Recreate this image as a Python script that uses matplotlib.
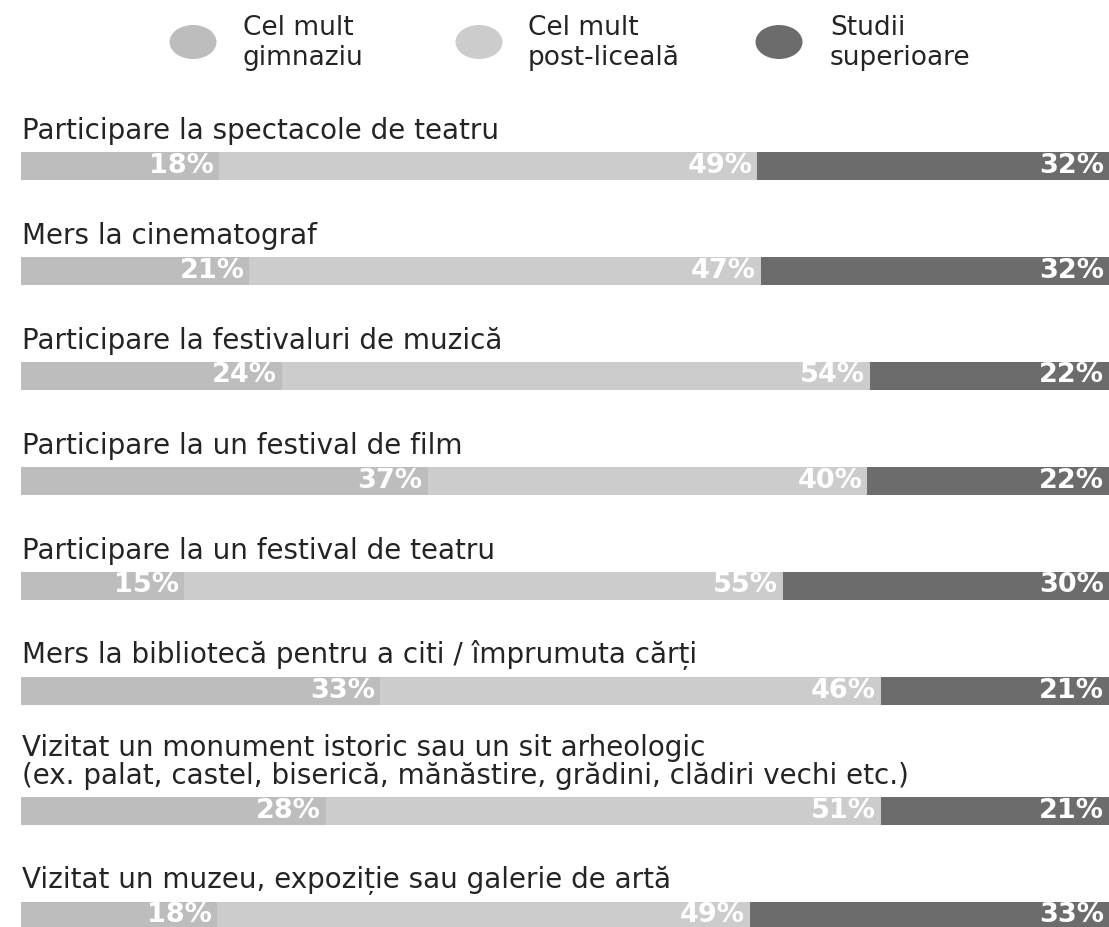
import matplotlib
matplotlib.use("Agg")
import matplotlib.pyplot as plt
import matplotlib.transforms as mtransforms
from matplotlib.patches import Ellipse
import numpy as np

# data
activities = [
    "Participare la spectacole de teatru",
    "Mers la cinematograf",
    "Participare la festivaluri de muzică",
    "Participare la un festival de film",
    "Participare la un festival de teatru",
    "Mers la bibliotecă pentru a citi / împrumuta cărți",
    "Vizitat un monument istoric sau un sit arheologic\n"
    "(ex. palat, castel, biserică, mănăstire, grădini, clădiri vechi etc.)",
    "Vizitat un muzeu, expoziție sau galerie de artă",
]
gimnaziu = [18, 21, 24, 37, 15, 33, 28, 18]
postliceala = [49, 47, 54, 40, 55, 46, 51, 49]
superioare = [32, 32, 22, 22, 30, 21, 21, 33]
series_names = ["Cel mult\ngimnaziu", "Cel mult\npost-liceală", "Studii\nsuperioare"]

colors = ["#bdbdbd", "#cccccc", "#6c6c6c"]
title_color = "#242424"

W, H = 1109, 927
fig = plt.figure(figsize=(W / 100, H / 100), dpi=100)
fig.patch.set_facecolor("white")

# bar axes: x in percent, y in pixels from top
ax = fig.add_axes([21 / W, 0, 1088 / W, 1])
ax.set_xlim(0, 100)
ax.set_ylim(H, 0)
ax.axis("off")

# row centres, extra room for the two-line title
centers = []
pos = 166
for t in activities:
    pos += 15 * t.count("\n")
    centers.append(pos)
    pos += 105
centers = np.array(centers)
bar_h = 28.5

vals = np.array([gimnaziu, postliceala, superioare], dtype=float)
totals = vals.sum(axis=0)
shares = vals / totals * 100

lbl_tr = mtransforms.offset_copy(ax.transData, fig=fig, x=-5, y=0, units="dots")
ttl_tr = mtransforms.offset_copy(ax.transData, fig=fig, x=1, y=0, units="dots")

left = np.zeros(len(activities))
for k in range(3):
    ax.barh(centers, shares[k], left=left, height=bar_h, color=colors[k],
            edgecolor="none")
    for i in range(len(activities)):
        ax.text(left[i] + shares[k][i], centers[i] - 0.5, f"{int(vals[k][i])}%",
                ha="right", va="center", color="white", fontsize=19.5,
                fontweight="bold", transform=lbl_tr)
    left += shares[k]

for i, t in enumerate(activities):
    ax.text(0, centers[i] - bar_h / 2 - 7, t, ha="left", va="bottom",
            fontsize=20, color=title_color, linespacing=1.0,
            transform=ttl_tr)

# legend
lg = fig.add_axes([0, 0, 1, 1])
lg.set_xlim(0, W)
lg.set_ylim(H, 0)
lg.axis("off")
lg_x = [193, 479, 779]
txt_x = [243, 528, 830]
for k in range(3):
    lg.add_patch(Ellipse((lg_x[k], 42), 47, 34, color=colors[k], lw=0))
    lg.text(txt_x[k], 43, series_names[k], ha="left", va="center",
            fontsize=19, color=title_color, linespacing=1.2)

fig.savefig("out.png", dpi=100, facecolor="white")
